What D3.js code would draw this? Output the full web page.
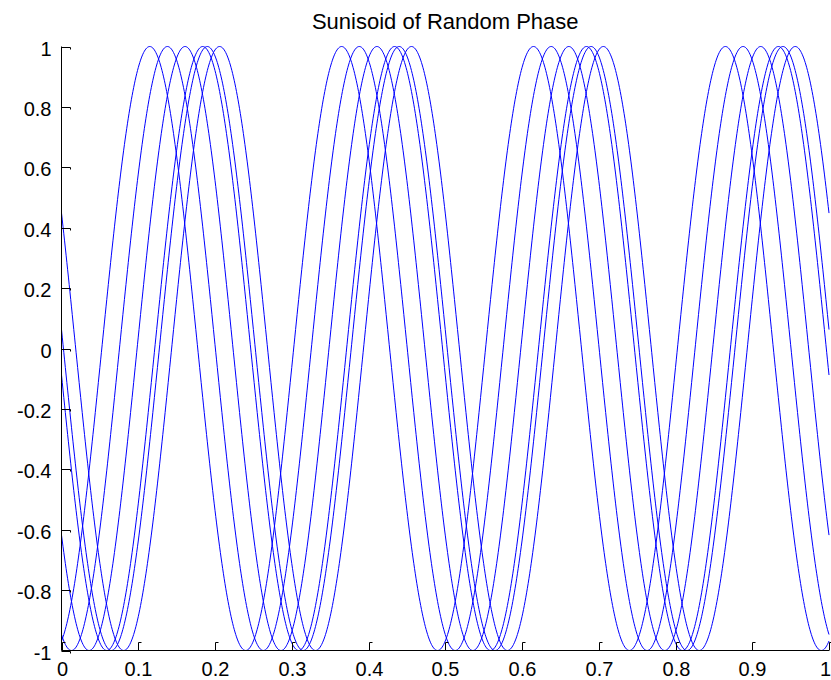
<!DOCTYPE html>
<html>
<head>
<meta charset="utf-8">
<script src="https://cdn.jsdelivr.net/npm/d3@7"></script>
<style>
  html, body { margin: 0; padding: 0; background: #fff; }
  svg { display: block; }
</style>
</head>
<body>
<svg id="chart"></svg>
<script>
// sinusoids of random phase: each curve is cos(2*pi*freq*(t - peak)),
// peak = time of first maximum
const title = "Sunisoid of Random Phase";
const freq = 4;
const peakTimes = [0.115, 0.138, 0.161, 0.184, 0.190, 0.206];
const xTicks = [0, 0.1, 0.2, 0.3, 0.4, 0.5, 0.6, 0.7, 0.8, 0.9, 1];
const yTicks = [-1, -0.8, -0.6, -0.4, -0.2, 0, 0.2, 0.4, 0.6, 0.8, 1];
const step = 0.001;

const width = 831, height = 680;
const margin = { top: 46.5, right: 2, bottom: 29.5, left: 61.5 };

const svg = d3.select("#chart")
  .attr("width", width)
  .attr("height", height)
  .style("font-family", "'Liberation Sans', Arial, sans-serif");

const x = d3.scaleLinear().domain([0, 1]).range([margin.left, width - margin.right]);
const y = d3.scaleLinear().domain([-1, 1]).range([height - margin.bottom, margin.top]);

const t = d3.range(0, 1 + step / 2, step);
const series = peakTimes.map((p) => t.map((ti) => [ti, Math.cos(2 * Math.PI * freq * (ti - p))]));

const line = d3.line().x((d) => x(d[0])).y((d) => y(d[1]));

// curves
svg.append("g")
  .selectAll("path")
  .data(series)
  .join("path")
  .attr("d", line)
  .attr("fill", "none")
  .attr("stroke", "#0000ff")
  .attr("stroke-width", 1);

// bottom axis (matlab style: ticks point inward)
const xAxis = svg.append("g").attr("transform", `translate(0,${y(-1)})`);
xAxis.append("line")
  .attr("x1", x(0)).attr("x2", x(1))
  .attr("stroke", "#000");
const xt = xAxis.selectAll("g.tick")
  .data(xTicks)
  .join("g")
  .attr("class", "tick")
  .attr("transform", (d) => `translate(${Math.round(x(d)) + 0.5},0)`);
xt.append("path")
  .attr("d", "M0,0V-8H3")
  .attr("fill", "none")
  .attr("stroke", "#000");
// last label sits at the window edge, keep it inside
xt.append("text")
  .attr("y", 25)
  .attr("x", (d, i) => (i === xTicks.length - 1 ? 1.5 : 0))
  .attr("text-anchor", (d, i) => (i === xTicks.length - 1 ? "end" : "middle"))
  .attr("font-size", 20)
  .attr("fill", "#000")
  .text((d) => String(d));

// left axis
const yAxis = svg.append("g").attr("transform", `translate(${x(0)},0)`);
yAxis.append("line")
  .attr("y1", y(-1)).attr("y2", y(1))
  .attr("stroke", "#000");
const yt = yAxis.selectAll("g.tick")
  .data(yTicks)
  .join("g")
  .attr("class", "tick")
  .attr("transform", (d) => `translate(0,${Math.round(y(d)) + 0.5})`);
yt.append("path")
  .attr("d", "M0,0H9V2")
  .attr("fill", "none")
  .attr("stroke", "#000");
yt.append("text")
  .attr("x", -10)
  .attr("dy", "0.42em")
  .attr("text-anchor", "end")
  .attr("font-size", 20)
  .attr("fill", "#000")
  .text((d) => String(d));

// title
svg.append("text")
  .attr("x", (x(0) + x(1)) / 2)
  .attr("y", 29)
  .attr("text-anchor", "middle")
  .attr("font-size", 22)
  .attr("fill", "#000")
  .text(title);
</script>
</body>
</html>
